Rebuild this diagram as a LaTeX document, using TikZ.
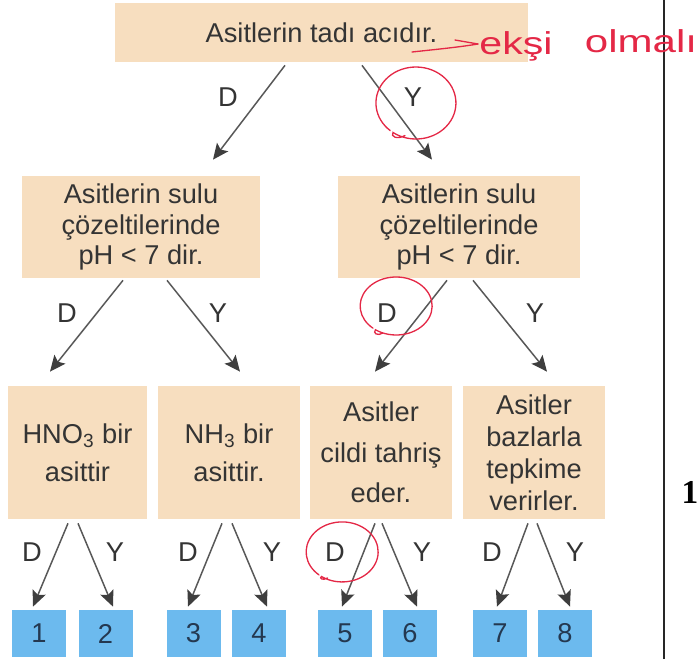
\documentclass[tikz,border=0pt]{standalone}
\usepackage{fontspec}
\setmainfont{Liberation Sans}
\newfontfamily\numserif{Liberation Serif}
\usetikzlibrary{arrows.meta}
\definecolor{peach}{RGB}{247,222,191}
\definecolor{skyblue}{RGB}{108,186,238}
\definecolor{ink}{RGB}{52,52,52}
\definecolor{numink}{RGB}{36,56,80}
\definecolor{arrowgray}{RGB}{88,88,88}
\definecolor{tipgray}{RGB}{62,62,62}
\definecolor{penred}{RGB}{228,40,70}

\begin{document}
\begin{tikzpicture}[
box/.style={fill=peach,text=ink,align=center,inner sep=0pt,font=\fontsize{15.5}{17.6}\selectfont},
numbox/.style={fill=skyblue,text=numink,inner sep=0pt,minimum width=1.08cm,minimum height=0.94cm,font=\fontsize{15.5}{18}\selectfont},
lab/.style={text=ink,inner sep=0pt,font=\fontsize{15.5}{18}\selectfont},
arr/.style={draw=arrowgray,line width=0.85pt,-{Stealth[length=9pt,width=8pt,inset=1.8pt,color=tipgray]}},
pen/.style={draw=penred,line width=0.75pt,line cap=round}]
\useasboundingbox (0,0) rectangle (13.96,13.18);

\node[box,minimum width=8.26cm,minimum height=1.18cm] (tat) at (6.43,12.53) {Asitlerin tad\i{} ac\i d\i r.};
\node[box,minimum width=4.76cm,minimum height=2.04cm] (ph1) at (2.82,8.64) {Asitlerin sulu\\çözeltilerinde\\pH < 7 dir.};
\node[box,minimum width=4.84cm,minimum height=2.04cm] (ph2) at (9.18,8.64) {Asitlerin sulu\\çözeltilerinde\\pH < 7 dir.};

\node[box,minimum width=2.78cm,minimum height=2.66cm,font=\fontsize{15.5}{21.5}\selectfont] (hno) at (1.55,4.13) {HNO\textsubscript{3} bir\\asittir};
\node[box,minimum width=2.84cm,minimum height=2.66cm,font=\fontsize{15.5}{21.5}\selectfont] (nh) at (4.58,4.13) {NH\textsubscript{3} bir\\asittir.};
\node[box,minimum width=2.84cm,minimum height=2.66cm,font=\fontsize{15.5}{23}\selectfont] (cilt) at (7.62,4.13) {Asitler\\cildi tahriş\\eder.};
\node[box,minimum width=2.84cm,minimum height=2.66cm,font=\fontsize{15.5}{18.2}\selectfont] (baz) at (10.68,4.13) {Asitler\\bazlarla\\tepkime\\verirler.};

\node[numbox] (n1) at (0.78,0.51) {1};
\node[numbox] (n2) at (2.11,0.51) {2};
\node[numbox] (n3) at (3.87,0.51) {3};
\node[numbox] (n4) at (5.18,0.51) {4};
\node[numbox] (n5) at (6.90,0.51) {5};
\node[numbox] (n6) at (8.20,0.51) {6};
\node[numbox] (n7) at (10.00,0.51) {7};
\node[numbox] (n8) at (11.30,0.51) {8};

\draw[arr] ([xshift=-0.73cm,yshift=-0.06cm]tat.south) -- ([xshift=1.44cm,yshift=0.32cm]ph1.north);
\draw[arr] ([xshift=0.81cm,yshift=-0.06cm]tat.south) -- ([xshift=-0.54cm,yshift=0.32cm]ph2.north);
\draw[arr] ([xshift=-0.36cm,yshift=-0.04cm]ph1.south) -- ([xshift=-0.55cm,yshift=0.28cm]hno.north);
\draw[arr] ([xshift=0.52cm,yshift=-0.04cm]ph1.south) -- ([xshift=0.22cm,yshift=0.28cm]nh.north);
\draw[arr] ([xshift=-0.24cm,yshift=-0.04cm]ph2.south) -- ([xshift=-0.12cm,yshift=0.28cm]cilt.north);
\draw[arr] ([xshift=0.28cm,yshift=-0.04cm]ph2.south) -- ([xshift=0.26cm,yshift=0.28cm]baz.north);

\draw[arr] ([xshift=-0.19cm,yshift=-0.08cm]hno.south) -- ([xshift=-0.12cm,yshift=0.06cm]n1.north);
\draw[arr] ([xshift=0.01cm,yshift=-0.08cm]hno.south) -- ([xshift=0.15cm,yshift=0.06cm]n2.north);
\draw[arr] ([xshift=-0.14cm,yshift=-0.08cm]nh.south) -- ([xshift=-0.11cm,yshift=0.06cm]n3.north);
\draw[arr] ([xshift=0.06cm,yshift=-0.08cm]nh.south) -- ([xshift=0.16cm,yshift=0.06cm]n4.north);
\draw[arr] ([xshift=-0.12cm,yshift=-0.08cm]cilt.south) -- ([xshift=-0.06cm,yshift=0.06cm]n5.north);
\draw[arr] ([xshift=0.02cm,yshift=-0.08cm]cilt.south) -- ([xshift=0.14cm,yshift=0.06cm]n6.north);
\draw[arr] ([xshift=-0.12cm,yshift=-0.08cm]baz.south) -- ([xshift=-0.06cm,yshift=0.06cm]n7.north);
\draw[arr] ([xshift=0.06cm,yshift=-0.08cm]baz.south) -- ([xshift=0.10cm,yshift=0.06cm]n8.north);

\node[lab] (d0) at (4.56,11.24) {D};
\node[lab] (y0) at (8.26,11.24) {Y};
\node[lab] (d1) at (1.34,6.92) {D};
\node[lab] (y1) at (4.36,6.92) {Y};
\node[lab] (d2) at (7.74,6.92) {D};
\node[lab] (y2) at (10.70,6.92) {Y};
\node[lab] (d3) at (0.64,2.14) {D};
\node[lab] (y3) at (2.30,2.14) {Y};
\node[lab] (d4) at (3.76,2.14) {D};
\node[lab] (y4) at (5.44,2.14) {Y};
\node[lab] (d5) at (6.70,2.14) {D};
\node[lab] (y5) at (8.44,2.14) {Y};
\node[lab] (d6) at (9.84,2.14) {D};
\node[lab] (y6) at (11.50,2.14) {Y};

\draw[line width=0.9pt,black!85] (13.28,0) -- (13.28,13.18);
\node[inner sep=0pt,font=\numserif\bfseries\fontsize{19}{20}\selectfont] (soru) at (13.80,3.34) {1};

\draw[pen] (8.10,10.47) .. controls (7.95,10.38) and (7.80,10.45) .. (7.86,10.53) arc[start angle=235,end angle=590,x radius=0.80cm,y radius=0.72cm];
\draw[pen] (7.66,6.52) .. controls (7.55,6.45) and (7.45,6.52) .. (7.51,6.585) arc[start angle=235,end angle=590,x radius=0.72cm,y radius=0.58cm];
\draw[pen] (6.55,1.62) .. controls (6.45,1.56) and (6.38,1.62) .. (6.43,1.65) arc[start angle=235,end angle=590,x radius=0.72cm,y radius=0.60cm];
\draw[pen] (8.24,12.14) .. controls (8.8,12.20) and (9.2,12.24) .. (9.56,12.30);
\draw[pen] (9.10,12.38) -- (9.56,12.30);
\node[text=penred,anchor=base,inner sep=0pt,font=\fontsize{18}{20}\selectfont] (eksi) at (10.32,12.08) {\scalebox{1.3}[1]{ekşi}};
\node[text=penred,anchor=base,inner sep=0pt,font=\fontsize{18}{20}\selectfont] (olmali) at (12.82,12.12) {\scalebox{1.33}[1]{olmal\i}};
\end{tikzpicture}
\end{document}
